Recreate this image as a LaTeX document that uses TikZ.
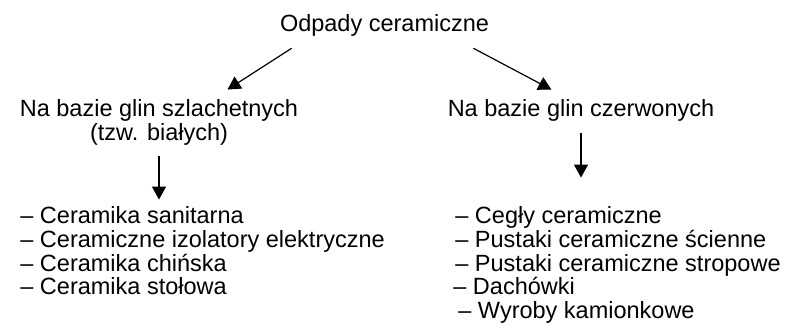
\documentclass[tikz,border=0pt]{standalone}
\usepackage{fontspec}
\setmainfont{Liberation Sans}
\usetikzlibrary{arrows.meta}
\begin{document}
\begin{tikzpicture}[x=0.5pt,y=-0.5pt,
        tekst/.style={inner sep=0pt,anchor=base,font=\fontsize{11.75}{14}\selectfont},
        punkt/.style={tekst,anchor=base west},
        strzalka/.style={-{Triangle[width=7pt,length=6.5pt]},line width=0.6pt}]
            \useasboundingbox (0,0) rectangle (786,336);
            \node[tekst] (odpady) at (384.5,32) {Odpady ceramiczne};
            \node[tekst] (lewy) at (159,117) {Na bazie glin szlachetnych};
            \node[tekst] (bialych) at (159,140.5) {(tzw. białych)};
            \node[tekst] (prawy) at (581,117) {Na bazie glin czerwonych};
            \begin{scope}
                \draw (20,224) node[punkt] (l1) {– Ceramika sanitarna}
                    ++(0,23.5) node[punkt] (l2) {– Ceramiczne izolatory elektryczne}
                    ++(0,23.5) node[punkt] (l3) {– Ceramika chińska}
                    ++(0,23.5) node[punkt] (l4) {– Ceramika stołowa};
            \end{scope}
            \begin{scope}
                \draw (455,224) node[punkt] (r1) {– Cegły ceramiczne}
                    ++(0,23.5) node[punkt] (r2) {– Pustaki ceramiczne ścienne}
                    ++(0,23.5) node[punkt] (r3) {– Pustaki ceramiczne stropowe}
                    ++(-2,23.5) node[punkt] (r4) {– Dachówki}
                    ++(5,23.5) node[punkt] (r5) {– Wyroby kamionkowe};
            \end{scope}
            \draw[strzalka] ([xshift=6pt,yshift=-5.5pt]odpady.south west) -- ([xshift=104pt,yshift=5pt]lewy.north west);
            \draw[strzalka] ([xshift=-8pt,yshift=-5.5pt]odpady.south east) -- ([xshift=52pt,yshift=5pt]prawy.north west);
            \draw[strzalka] ([yshift=-5pt]bialych.south) -- ([yshift=3.5pt]bialych.south |- l1.north);
            \draw[strzalka] ([yshift=-5.5pt]prawy.south) -- ([yshift=14.5pt]prawy.south |- r1.north);
        \end{tikzpicture}
\end{document}
